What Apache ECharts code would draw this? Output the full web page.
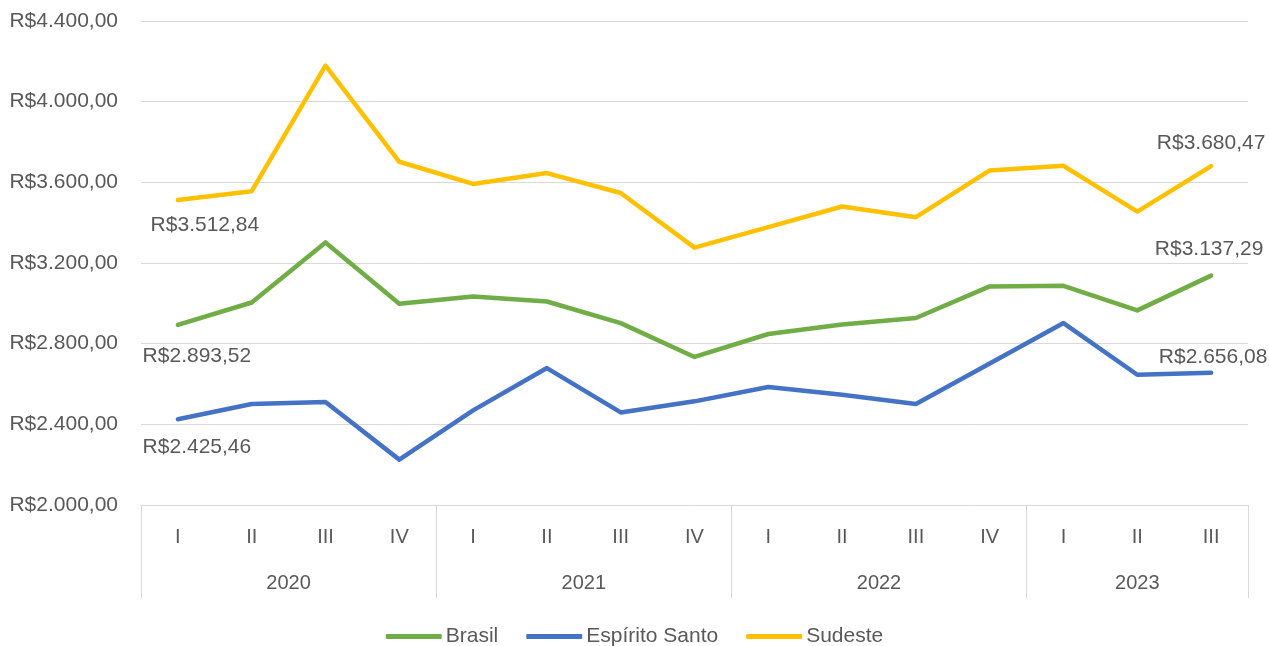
<!DOCTYPE html>
<html>
<head>
<meta charset="utf-8">
<script src="https://cdn.jsdelivr.net/npm/echarts@6/dist/echarts.min.js"></script>
<style>
html,body{margin:0;padding:0;background:#fff;}
#chart{width:1269px;height:646px;}
</style>
</head>
<body>
<div id="chart"></div>
<script>
const quarters = ['I','II','III','IV','I','II','III','IV','I','II','III','IV','I','II','III'];
const years = ['2020','2021','2022','2023'];
const yearCenters = [2, 6, 10, 13.5];
const yearBounds = [0, 4, 8, 12, 15];
const brasil = [2893.52, 3004, 3302, 2998, 3034, 3009, 2902, 2734, 2848, 2895, 2927, 3084, 3087, 2965, 3137.29];
const espiritoSanto = [2425.46, 2501, 2511, 2225, 2469, 2679, 2459, 2514, 2585, 2547, 2501, 2702, 2902, 2646, 2656.08];
const sudeste = [3512.84, 3556, 4179, 3702, 3592, 3646, 3547, 3276, 3378, 3480, 3427, 3659, 3682, 3455, 3680.47];
const yTicks = {min: 2000, max: 4400, interval: 400};

const FONT = 'Liberation Sans';
const GRAY = '#595959';

function brl(v) {
  const neg = v < 0; v = Math.abs(v);
  const fixed = v.toFixed(2);
  let [ip, dp] = fixed.split('.');
  ip = ip.replace(/\B(?=(\d{3})+(?!\d))/g, '.');
  return (neg ? '-' : '') + 'R$' + ip + ',' + dp;
}

function withLabels(values, firstOffset, lastOffset) {
  return values.map((v, i) => {
    if (i === 0 || i === values.length - 1) {
      return {
        value: v,
        label: {
          show: true,
          position: 'inside',
          offset: i === 0 ? firstOffset : lastOffset,
          formatter: p => brl(p.value),
          fontFamily: FONT, fontSize: 21, color: GRAY
        }
      };
    }
    return v;
  });
}

function lineSeries(name, color, values, firstOffset, lastOffset) {
  return {
    name: name,
    type: 'line',
    xAxisIndex: 0,
    data: withLabels(values, firstOffset, lastOffset),
    showSymbol: true,
    symbol: 'circle',
    symbolSize: 1,
    itemStyle: {color: color},
    lineStyle: {color: color, width: 4.5, cap: 'round', join: 'round'},
    emphasis: {disabled: true},
    animation: false
  };
}

const chart = echarts.init(document.getElementById('chart'), null, {renderer: 'canvas'});
chart.setOption({
  backgroundColor: '#ffffff',
  animation: false,
  grid: {left: 141, right: 21, top: 21, bottom: 141},
  legend: {
    data: ['Brasil', 'Espírito Santo', 'Sudeste'],
    top: 621,
    left: 'center',
    icon: 'roundRect',
    itemWidth: 56,
    itemHeight: 5,
    itemGap: 28,
    textStyle: {fontFamily: FONT, fontSize: 21, color: GRAY, padding: [0, 0, 0, -1]}
  },
  xAxis: [
    {
      type: 'category',
      data: quarters,
      boundaryGap: true,
      axisLine: {show: true, lineStyle: {color: '#D9D9D9', width: 1}},
      axisTick: {show: false},
      axisLabel: {fontFamily: FONT, fontSize: 20, color: GRAY, margin: 22, interval: 0},
      splitLine: {show: false}
    },
    {
      type: 'value',
      position: 'bottom',
      min: 0,
      max: 15,
      axisLine: {show: false},
      axisTick: {show: true, customValues: yearBounds, length: 93, lineStyle: {color: '#D9D9D9', width: 1}},
      axisLabel: {
        show: true,
        customValues: yearCenters,
        formatter: v => years[yearCenters.indexOf(v)] || '',
        fontFamily: FONT, fontSize: 20, color: GRAY, margin: 68
      },
      splitLine: {show: false}
    }
  ],
  yAxis: {
    type: 'value',
    min: yTicks.min,
    max: yTicks.max,
    interval: yTicks.interval,
    axisLine: {show: false},
    axisTick: {show: false},
    axisLabel: {formatter: v => brl(v), fontFamily: FONT, fontSize: 21, color: GRAY, margin: 23},
    splitLine: {lineStyle: {color: '#D9D9D9', width: 1}}
  },
  series: [
    lineSeries('Brasil', '#70AD47', brasil, [19, 31], [-2, -26]),
    lineSeries('Espírito Santo', '#4472C4', espiritoSanto, [19, 28], [2, -15]),
    lineSeries('Sudeste', '#FFC000', sudeste, [27, 25], [0, -23])
  ]
});
</script>
</body>
</html>
